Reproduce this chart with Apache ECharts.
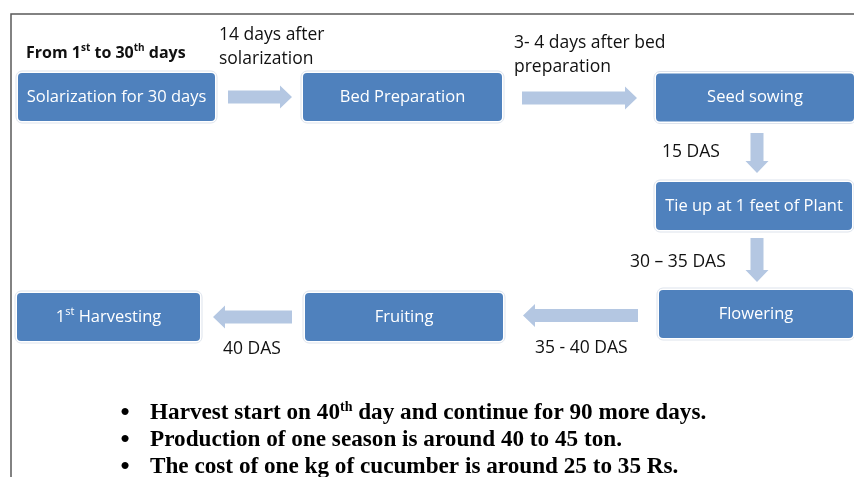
<!DOCTYPE html>
<html><head><meta charset="utf-8">
<script src="https://cdn.jsdelivr.net/npm/echarts@6/dist/echarts.min.js"></script>
<style>html,body{margin:0;padding:0;background:#fff}#c{width:854px;height:477px}</style>
</head><body><div id="c"></div>
<script>
// ---- data ----
const stepLabels = ['Solarization for 30 days', 'Bed Preparation', 'Seed sowing', 'Tie up at 1 feet of Plant', 'Flowering', 'Fruiting', '1{s|st} Harvesting'];
const stepX = [116.5, 402.5, 755, 754, 756, 404, 108.5];   // box centre (diagram units)
const stepY = [97, 97, 97.5, 206, 314, 317, 317];
const arrowFromX = [228, 522, 757, 757, 638, 292];
const arrowFromY = [97, 98, 133, 238, 315.5, 317];
const arrowToX = [292, 637, 757, 757, 523, 213];
const arrowToY = [97, 98, 173, 282, 315.5, 317];
const noteTexts = ['From 1{s|st} to 30{s|th} days', '14 days after', 'solarization', '3- 4 days after bed', 'preparation', '15 DAS', '30 – 35 DAS', '35 - 40 DAS', '40 DAS'];
const noteX = [26, 219, 219, 514, 514, 662, 630, 535, 223];
const noteY = [53, 35, 59, 43, 67, 152, 262, 348, 349];
const bulletTexts = ['Harvest start on 40{s|th} day and continue for 90 more days.', 'Production of one season is around 40 to 45 ton.', 'The cost of one kg of cucumber is around 25 to 35 Rs.'];
const bulletY = [413, 440, 467];

// ---- layout / style ----
const boxW = [197, 199, 198, 196, 194, 198, 183];
const boxH = 48;
const BOX = '#4F81BD', ARROW = '#B4C7E2';
const F = '"Open Sans", "Noto Sans", sans-serif';

const chart = echarts.init(document.getElementById('c'), null, {renderer: 'canvas'});
const boxData = stepLabels.map((t, i) => [stepX[i], stepY[i], boxW[i], t]);
const arrowData = arrowFromX.map((x, i) => [x, arrowFromY[i], arrowToX[i], arrowToY[i]]);
const noteData = noteTexts.map((t, i) => [noteX[i], noteY[i], t, i === 0 ? 1 : 0]);
const bulletData = bulletTexts.map((t, i) => [150, bulletY[i], t]);

chart.setOption({
  animation: false,
  grid: {left: 0, right: 0, top: 0, bottom: 0},
  xAxis: {type: 'value', min: 0, max: 854, show: false},
  yAxis: {type: 'value', min: 0, max: 477, inverse: true, show: false},
  graphic: [
    {type: 'polyline', shape: {points: [[11, 477], [11, 14], [854, 14]]}, style: {stroke: '#5a5a5a', lineWidth: 1.5, fill: null}, silent: true}
  ],
  series: [
    {
      type: 'custom', coordinateSystem: 'cartesian2d', data: arrowData, silent: true,
      renderItem: (params, api) => {
        const p0 = api.coord([api.value(0), api.value(1)]);
        const p1 = api.coord([api.value(2), api.value(3)]);
        const dx = p1[0] - p0[0], dy = p1[1] - p0[1];
        const L = Math.hypot(dx, dy), ux = dx / L, uy = dy / L, nx = -uy, ny = ux;
        const sw = 6.5, hw = 11.5, hl = 12;
        const b = [p0[0] + ux * (L - hl), p0[1] + uy * (L - hl)];
        const pts = [
          [p0[0] + nx * sw, p0[1] + ny * sw],
          [b[0] + nx * sw, b[1] + ny * sw],
          [b[0] + nx * hw, b[1] + ny * hw],
          p1,
          [b[0] - nx * hw, b[1] - ny * hw],
          [b[0] - nx * sw, b[1] - ny * sw],
          [p0[0] - nx * sw, p0[1] - ny * sw]
        ];
        return {type: 'polygon', shape: {points: pts}, style: {fill: ARROW}};
      }
    },
    {
      type: 'custom', coordinateSystem: 'cartesian2d', data: boxData, silent: true,
      renderItem: (params, api) => {
        const c = api.coord([api.value(0), api.value(1)]);
        const s = api.size([api.value(2), boxH]);
        const label = boxData[params.dataIndex][3];
        return {
          type: 'group', children: [
            {type: 'rect', shape: {x: c[0] - s[0] / 2 - 2, y: c[1] - s[1] / 2 - 2, width: s[0] + 4, height: s[1] + 4, r: 6}, style: {fill: '#fff', stroke: '#dde3ec', lineWidth: 1}},
            {type: 'rect', shape: {x: c[0] - s[0] / 2, y: c[1] - s[1] / 2, width: s[0], height: s[1], r: 4}, style: {fill: BOX}},
            {type: 'text', x: c[0], y: c[1], style: {text: label, align: 'center', verticalAlign: 'middle', fill: '#fff', font: '16.5px ' + F,
              rich: {s: {fontSize: 11, fontFamily: F, fill: '#fff', verticalAlign: 'top', lineHeight: 22, padding: [0, 0, 6, 0]}}}}
          ]
        };
      }
    },
    {
      type: 'custom', coordinateSystem: 'cartesian2d', data: noteData, silent: true,
      renderItem: (params, api) => {
        const c = api.coord([api.value(0), api.value(1)]);
        const d = noteData[params.dataIndex];
        const bold = d[3] === 1;
        return {type: 'text', x: c[0], y: c[1], style: {text: d[2], align: 'left', verticalAlign: 'middle', fill: '#111',
          font: (bold ? 'bold 16px ' : '17.5px ') + F,
          rich: {s: {fontSize: 10, fontWeight: 'bold', fontFamily: F, fill: '#111', verticalAlign: 'top', lineHeight: 20, padding: [0, 0, 7, 0]}}}};
      }
    },
    {
      type: 'custom', coordinateSystem: 'cartesian2d', data: bulletData, silent: true,
      renderItem: (params, api) => {
        const c = api.coord([api.value(0), api.value(1)]);
        const d = bulletData[params.dataIndex];
        const font = 'bold 23.2px "Liberation Serif", "Times New Roman", serif';
        return {type: 'group', children: [
          {type: 'text', x: c[0] - 25, y: c[1], style: {text: '•', align: 'center', verticalAlign: 'middle', fill: '#000', font: 'bold 26px "Liberation Serif", serif'}},
          {type: 'text', x: c[0], y: c[1], style: {text: d[2], align: 'left', verticalAlign: 'middle', fill: '#000', font: font,
            rich: {s: {fontSize: 14, fontWeight: 'bold', fontFamily: '"Liberation Serif", serif', fill: '#000', verticalAlign: 'top', lineHeight: 26, padding: [0, 0, 9, 0]}}}}
        ]};
      }
    }
  ]
});
</script></body></html>
